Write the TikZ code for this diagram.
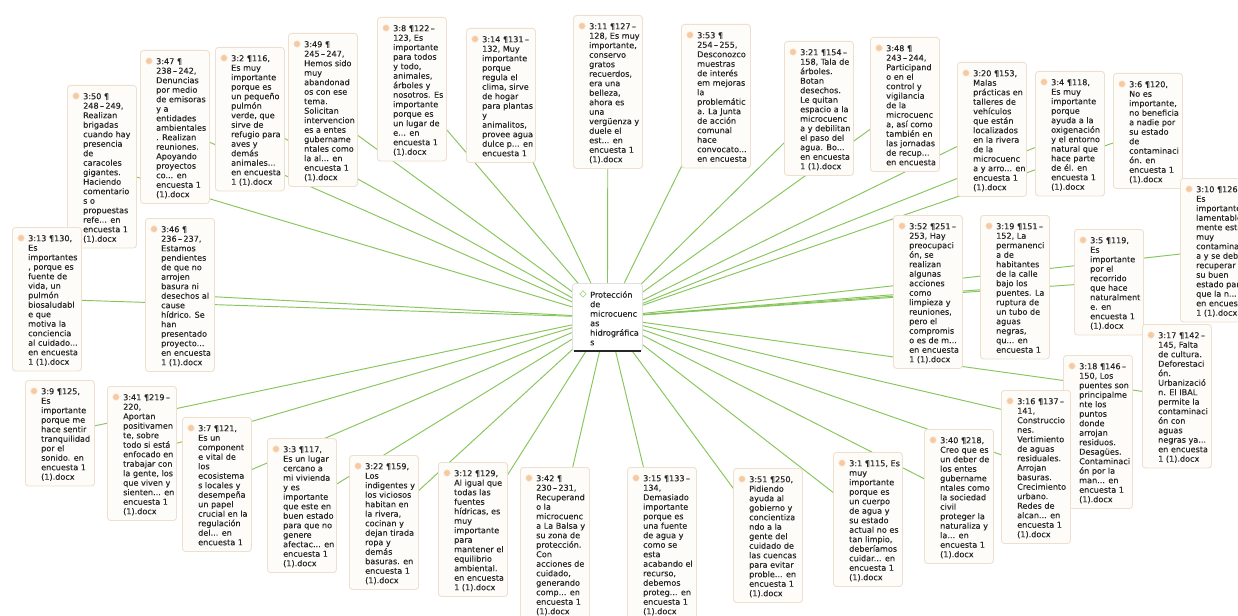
\documentclass[tikz,border=0pt]{standalone}
\usepackage{fontspec}
\setmainfont{DejaVu Sans}[FakeBold=0.3]
\usetikzlibrary{calc,shapes.geometric}
\pgfdeclarelayer{bg}
\pgfsetlayers{bg,main}
\definecolor{edgec}{HTML}{86C65A}
\definecolor{boxfill}{HTML}{FEFCF9}
\definecolor{boxline}{HTML}{EFDFCF}
\definecolor{dotc}{HTML}{F5C9A2}
\definecolor{txt}{HTML}{262626}
\tikzset{
  qbox/.style={draw=boxline, fill=boxfill, rounded corners=3pt, minimum width=69pt, inner sep=0pt, line width=0.9pt},
  qtext/.style={inner sep=0pt, align=left, text=txt, font=\fontsize{8.1}{9.5}\selectfont},
  qdot/.style={circle, fill=dotc, draw=dotc!60!white, minimum size=6.5pt, inner sep=0pt, line width=0.5pt},
  edgeline/.style={draw=edgec, line width=0.95pt},
  cbox/.style={draw=black!12, fill=white, rounded corners=3pt, minimum width=70pt, minimum height=68pt, inner sep=0pt, line width=0.8pt},
}
\newcommand\qnode[5]{%
  \node[qbox, minimum height={(20+(#4-1)*9.5)*1pt}, anchor=north west] (#1) at (#2pt,-#3pt) {};
  \node[qtext, anchor=north west] (#1t) at ($(#1.north west)+(16pt,-8pt)$) {#5};
  \node[qdot] (#1d) at ($(#1.north west)+(9pt,-11pt)$) {};
}
\begin{document}
\begin{tikzpicture}
\clip (0,0) rectangle (1238pt,-615pt);

% centre
\node[cbox, anchor=north west] (c) at (572pt,-283pt) {};
\node[qtext, anchor=north west] (ct) at ($(c.north west)+(18pt,-8pt)$) {Protección\\de\\microcuenc\\as\\hidrográfica\\s};
\node[diamond, draw=edgec!70!white, line width=0.7pt, minimum size=6.5pt, inner sep=0pt] (cd) at ($(c.north west)+(11pt,-11pt)$) {};
\draw[line width=2.2pt, black!85] ($(c.south west)+(2pt,1pt)$) coordinate (cl) -- ($(c.south east)+(-2pt,1pt)$) coordinate (cr);

\qnode{q50}{67}{85}{16}{3:50 ¶\\248\,–\,249,\\Realizan\\brigadas\\cuando hay\\presencia\\de\\caracoles\\gigantes.\\Haciendo\\comentario\\s o\\propuestas\\refe... en\\encuesta 1\\(1).docx}
\qnode{q47}{140}{50}{15}{3:47 ¶\\238\,–\,242,\\Denuncias\\por medio\\de emisoras\\y a\\entidades\\ambientales\\. Realizan\\reuniones.\\Apoyando\\proyectos\\co... en\\encuesta 1\\(1).docx}
\qnode{q2}{215}{47}{14}{3:2 ¶116,\\Es muy\\importante\\porque es\\un pequeño\\pulmón\\verde, que\\sirve de\\refugio para\\aves y\\demás\\animales...\\en encuesta\\1 (1).docx}
\qnode{q49}{288}{33}{15}{3:49 ¶\\245\,–\,247,\\Hemos sido\\muy\\abandonad\\os con ese\\tema.\\Solicitan\\intervencion\\es a entes\\gubername\\ntales como\\la al... en\\encuesta 1\\(1).docx}
\qnode{q13}{12}{227}{14}{3:13 ¶130,\\Es\\importantes\\, porque es\\fuente de\\vida, un\\pulmón\\biosaludabl\\e que\\motiva la\\conciencia\\al cuidado...\\en encuesta\\1 (1).docx}
\qnode{q46}{145}{218}{15}{3:46 ¶\\236\,–\,237,\\Estamos\\pendientes\\de que no\\arrojen\\basura ni\\desechos al\\cause\\hídrico. Se\\han\\presentado\\proyecto...\\en encuesta\\1 (1).docx}
\qnode{q8}{377}{17}{14}{3:8 ¶122\,–\\123, Es\\importante\\para todos\\y todo,\\animales,\\árboles y\\nosotros. Es\\importante\\porque es\\un lugar de\\e... en\\encuesta 1\\(1).docx}
\qnode{q14}{466}{28}{13}{3:14 ¶131\,–\\132, Muy\\importante\\porque\\regula el\\clima, sirve\\de hogar\\para plantas\\y\\animalitos,\\provee agua\\dulce p... en\\encuesta 1}
\qnode{q11}{573}{15}{15}{3:11 ¶127\,–\\128, Es muy\\importante,\\conservo\\gratos\\recuerdos,\\era una\\belleza,\\ahora es\\una\\vergüenza y\\duele el\\est... en\\encuesta 1\\(1).docx}
\qnode{q53}{681}{24}{14}{3:53 ¶\\254\,–\,255,\\Desconozco\\muestras\\de interés\\em mejoras\\la\\problemátic\\a. La Junta\\de acción\\comunal\\hace\\convocato...\\en encuesta}
\qnode{q21}{784}{41}{13}{3:21 ¶154\,–\\158, Tala de\\árboles.\\Botan\\desechos.\\Le quitan\\espacio a la\\microcuenc\\a y debilitan\\el paso del\\agua. Bo...\\en encuesta\\1 (1).docx}
\qnode{q48}{870}{37}{13}{3:48 ¶\\243\,–\,244,\\Participand\\o en el\\control y\\vigilancia\\de la\\microcuenc\\a, así como\\también en\\las jornadas\\de recup...\\en encuesta}
\qnode{q20}{957}{62}{13}{3:20 ¶153,\\Malas\\prácticas en\\talleres de\\vehículos\\que están\\localizados\\en la rivera\\de la\\microcuenc\\a y arro... en\\encuesta 1\\(1).docx}
\qnode{q4}{1035}{71}{12}{3:4 ¶118,\\Es muy\\importante\\porque\\ayuda a la\\oxigenación\\y el entorno\\natural que\\hace parte\\de él. en\\encuesta 1\\(1).docx}
\qnode{q6}{1113}{73}{11}{3:6 ¶120,\\No es\\importante,\\no beneficia\\a nadie por\\su estado\\de\\contaminaci\\ón. en\\encuesta 1\\(1).docx}
\qnode{q10}{1180}{178}{14}{3:10 ¶126,\\Es\\importante,\\lamentable\\mente está\\muy\\contaminad\\a y se deben\\recuperar\\su buen\\estado para\\que la n...\\en encuesta\\1 (1).docx}
\qnode{q5}{1074}{229}{10}{3:5 ¶119,\\Es\\importante\\por el\\recorrido\\que hace\\naturalment\\e. en\\encuesta 1\\(1).docx}
\qnode{q17}{1142}{324}{14}{3:17 ¶142\,–\\145, Falta\\de cultura.\\Deforestaci\\ón.\\Urbanizació\\n. El IBAL\\permite la\\contaminaci\\ón con\\aguas\\negras ya...\\en encuesta\\1 (1).docx}
\qnode{q52}{893}{215}{15}{3:52 ¶251\,–\\253, Hay\\preocupaci\\ón, se\\realizan\\algunas\\acciones\\como\\limpieza y\\reuniones,\\pero el\\compromis\\o es de m...\\en encuesta\\1 (1).docx}
\qnode{q19}{980}{215}{14}{3:19 ¶151\,–\\152, La\\permanenci\\a de\\habitantes\\de la calle\\bajo los\\puentes. La\\ruptura de\\un tubo de\\aguas\\negras,\\qu... en\\encuesta 1}
\qnode{q18}{1063}{355}{15}{3:18 ¶146\,–\\150, Los\\puentes son\\principalme\\nte los\\puntos\\donde\\arrojan\\residuos.\\Desagües.\\Contaminaci\\ón por la\\man... en\\encuesta 1\\(1).docx}
\qnode{q16}{1001}{390}{15}{3:16 ¶137\,–\\141,\\Construccio\\nes.\\Vertimiento\\de aguas\\residuales.\\Arrojan\\basuras.\\Crecimiento\\urbano.\\Redes de\\alcan... en\\encuesta 1\\(1).docx}
\qnode{q40}{924}{429}{13}{3:40 ¶218,\\Creo que es\\un deber de\\los entes\\gubername\\ntales como\\la sociedad\\civil\\proteger la\\naturaliza y\\la... en\\encuesta 1\\(1).docx}
\qnode{q1}{833}{452}{13}{3:1 ¶115, Es\\muy\\importante\\porque es\\un cuerpo\\de agua y\\su estado\\actual no es\\tan limpio,\\deberíamos\\cuidar... en\\encuesta 1\\(1).docx}
\qnode{q51}{733}{468}{13}{3:51 ¶250,\\Pidiendo\\ayuda al\\gobierno y\\concientiza\\ndo a la\\gente del\\cuidado de\\las cuencas\\para evitar\\proble... en\\encuesta 1\\(1).docx}
\qnode{q15}{627}{467}{15}{3:15 ¶133\,–\\134,\\Demasiado\\importante\\porque es\\una fuente\\de agua y\\como se\\esta\\acabando el\\recurso,\\debemos\\proteg... en\\encuesta 1\\(1).docx}
\qnode{q42}{520}{467}{15}{3:42 ¶\\230\,–\,231,\\Recuperand\\o la\\microcuenc\\a La Balsa y\\su zona de\\protección.\\Con\\acciones de\\cuidado,\\generando\\comp... en\\encuesta 1\\(1).docx}
\qnode{q12}{438}{462}{13}{3:12 ¶129,\\Al igual que\\todas las\\fuentes\\hídricas, es\\muy\\importante\\para\\mantener el\\equilibrio\\ambiental.\\en encuesta\\1 (1).docx}
\qnode{q22}{349}{455}{13}{3:22 ¶159,\\Los\\indigentes y\\los viciosos\\habitan en\\la rivera,\\cocinan y\\dejan tirada\\ropa y\\demás\\basuras. en\\encuesta 1\\(1).docx}
\qnode{q3}{267}{438}{13}{3:3 ¶117,\\Es un lugar\\cercano a\\mi vivienda\\y es\\importante\\que este en\\buen estado\\para que no\\genere\\afectac... en\\encuesta 1\\(1).docx}
\qnode{q7}{182}{417}{13}{3:7 ¶121,\\Es un\\component\\e vital de\\los\\ecosistema\\s locales y\\desempeña\\un papel\\crucial en la\\regulación\\del... en\\encuesta 1}
\qnode{q41}{107}{386}{13}{3:41 ¶219\,–\\220,\\Aportan\\positivamen\\te, sobre\\todo si está\\enfocado en\\trabajar con\\la gente, los\\que viven y\\sienten... en\\encuesta 1\\(1).docx}
\qnode{q9}{25}{380}{10}{3:9 ¶125,\\Es\\importante\\porque me\\hace sentir\\tranquilidad\\por el\\sonido. en\\encuesta 1\\(1).docx}

\begin{pgfonlayer}{bg}
\fill[white] (0,0) rectangle (1238pt,-615pt);
\foreach \n in {q50,q47,q2,q49,q13,q46,q8,q14,q11,q53,q21,q48,q20,q4,q6,q10,q5,q17,q52,q19,q18,q16,q40,q1,q51,q15,q42,q12,q22,q3,q7,q41,q9}
  \draw[edgeline] (c.center) -- (\n.center);
\end{pgfonlayer}
\end{tikzpicture}
\end{document}
